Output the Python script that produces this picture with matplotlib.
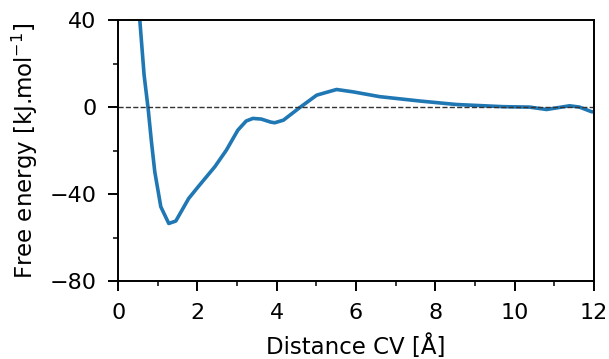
import matplotlib
matplotlib.use("Agg")
import matplotlib.pyplot as plt
from matplotlib.ticker import MultipleLocator

# free energy profile
distance = [0.55, 0.655, 0.756, 0.84, 0.924, 1.076, 1.277, 1.454, 1.78, 2.02, 2.44, 2.73,
            3.02, 3.23, 3.40, 3.61, 3.85, 3.95, 4.17, 4.59, 5.01, 5.51, 5.93, 6.60,
            7.61, 8.53, 9.71, 10.38, 10.81, 11.39, 11.64, 11.94, 12.0]
free_energy = [39.2, 14.7, -0.6, -15.9, -29.7, -45.8, -53.5, -52.4, -42.0, -36.6, -27.4, -19.8,
               -10.6, -6.4, -5.2, -5.5, -6.9, -7.2, -6.0, -0.1, 5.5, 8.1, 7.0, 4.8,
               2.8, 1.2, 0.2, 0.0, -1.1, 0.6, 0.0, -2.1, -2.2]

plt.rcParams['font.size'] = 16.5

fig, ax = plt.subplots(figsize=(6.09, 3.59), dpi=100)
fig.subplots_adjust(left=0.194, right=0.975, top=0.944, bottom=0.217)

ax.plot(distance, free_energy, color='#1f77b4', lw=2.6, solid_joinstyle='round')
ax.axhline(0, color='#333333', ls='--', lw=1.0)

ax.set_xlim(0, 12)
ax.set_ylim(-80, 40)
ax.xaxis.set_major_locator(MultipleLocator(2))
ax.xaxis.set_minor_locator(MultipleLocator(1))
ax.yaxis.set_major_locator(MultipleLocator(40))
ax.yaxis.set_minor_locator(MultipleLocator(20))
ax.tick_params(which='major', direction='out', length=7.5, width=1.4, labelsize=16, pad=8)
ax.tick_params(which='minor', direction='out', length=3.8, width=1.1)
for sp in ax.spines.values():
    sp.set_linewidth(1.4)

ax.set_xlabel('Distance CV [Å]', labelpad=8)
ax.set_ylabel('Free energy [kJ.mol$^{-1}$]', labelpad=7)

fig.savefig('out.png', dpi=100)
